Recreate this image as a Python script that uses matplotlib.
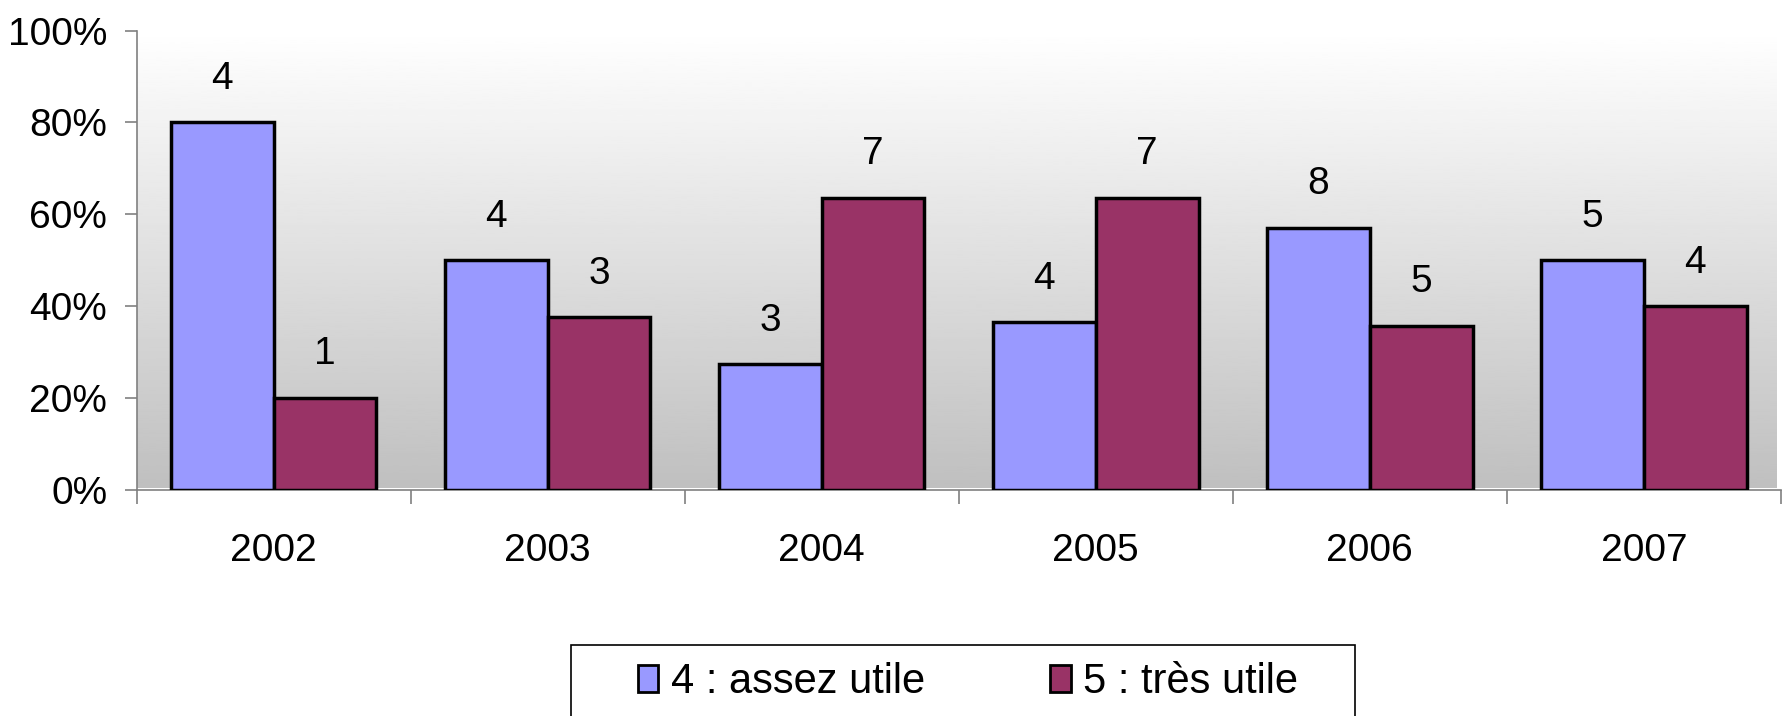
import numpy as np
import matplotlib
matplotlib.use("Agg")
import matplotlib.pyplot as plt
from matplotlib.patches import Rectangle, Patch
from matplotlib.ticker import PercentFormatter

plt.rcParams['font.family'] = ['Liberation Sans', 'DejaVu Sans']

# ── Data ─────────────────────────────────────────────
years        = ["2002", "2003", "2004", "2005", "2006", "2007"]
assez_pct    = [80.0, 50.0, 27.3, 36.4, 57.1, 50.0]   # % "4 : assez utile"
tres_pct     = [20.0, 37.5, 63.6, 63.6, 35.7, 40.0]   # % "5 : très utile"
assez_counts = [4, 4, 3, 4, 8, 5]
tres_counts  = [1, 3, 7, 7, 5, 4]
series_names = ["4 : assez utile", "5 : très utile"]

BLUE, RED, GREY = "#9999FF", "#993366", "#808080"
W, H, DPI = 1784, 716, 100

fig = plt.figure(figsize=(W / DPI, H / DPI), dpi=DPI)
ax = fig.add_axes([136.5 / W, 1 - 489.5 / H, (1781 - 136.5) / W, (489.5 - 30.7) / H])

x = np.arange(len(years))
bw = 0.375
ax.set_xlim(-0.5, len(years) - 0.5)
ax.set_ylim(0, 100)

# gradient plot area: white at top -> grey at bottom (stops just short of the right end)
grad = np.linspace(0.75, 1.0, 256).reshape(-1, 1)
ax.imshow(grad, cmap="gray", vmin=0, vmax=1, origin="lower", aspect="auto",
          extent=[-0.5, len(years) - 0.52, 0.4, 100], zorder=0)

b1 = ax.bar(x - bw / 2, assez_pct, bw, color=BLUE, edgecolor="black", linewidth=2.5, zorder=3)
b2 = ax.bar(x + bw / 2, tres_pct, bw, color=RED, edgecolor="black", linewidth=2.5, zorder=3)

for bars, counts in ((b1, assez_counts), (b2, tres_counts)):
    for rect, c in zip(bars, counts):
        ax.annotate(str(c), (rect.get_x() + rect.get_width() / 2, rect.get_height()),
                    xytext=(0, 24), textcoords="offset points",
                    ha="center", va="baseline", fontsize=28)

# axes styling
for s in ("top", "right"):
    ax.spines[s].set_visible(False)
for s in ("left", "bottom"):
    ax.spines[s].set_color(GREY)
    ax.spines[s].set_linewidth(1.2)
ax.spines["left"].set_bounds(0, 100)

ax.set_yticks([0, 20, 40, 60, 80, 100])
ax.yaxis.set_major_formatter(PercentFormatter(decimals=0))
ax.tick_params(axis="y", length=9, width=1.2, color=GREY, pad=12, labelsize=28)

ax.set_xticks(x)
ax.set_xticklabels(years)
ax.set_xticks(np.arange(len(years) + 1) - 0.5, minor=True)
ax.tick_params(axis="x", which="major", length=0, pad=31, labelsize=28)
ax.tick_params(axis="x", which="minor", length=10, width=1.2, color=GREY)

# legend (box runs off the bottom edge like the original)
fig.patches.append(Rectangle((571 / W, -0.02), (1355 - 571) / W, 0.02 + 1 - 645 / H,
                             transform=fig.transFigure, fill=False,
                             edgecolor="black", linewidth=1.2))
handles = [Patch(facecolor=BLUE, edgecolor="black", linewidth=2),
           Patch(facecolor=RED, edgecolor="black", linewidth=2)]
fig.legend(handles, series_names, loc="center", ncol=2, frameon=False,
           bbox_to_anchor=(968 / W, 1 - 682 / H), fontsize=30,
           handlelength=0.5, handleheight=0.6, handletextpad=0.3,
           columnspacing=3.0)

fig.savefig("out.png", dpi=DPI)
